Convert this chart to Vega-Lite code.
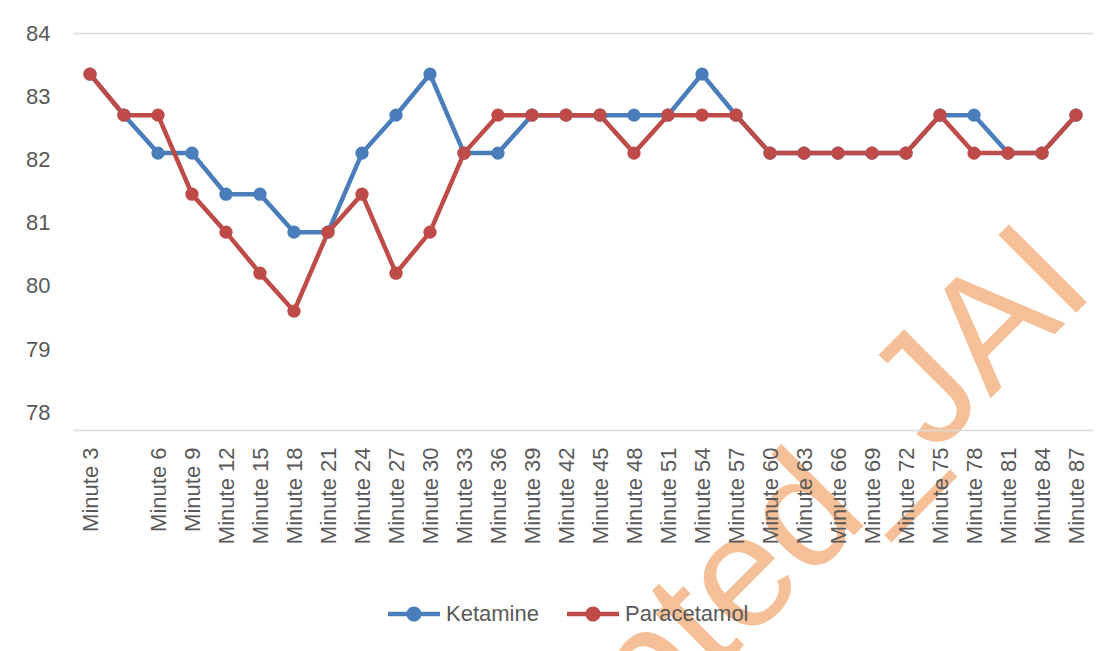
{
  "$schema": "https://vega.github.io/schema/vega-lite/v6.json",
  "width": 1020,
  "height": 397,
  "autosize": "none",
  "padding": {"left": 73, "top": 33, "right": 22, "bottom": 221},
  "background": "white",
  "config": {"view": {"stroke": null}, "font": "Liberation Sans"},
  "datasets": {
    "series": [
      {"idx": 0, "drug": "Ketamine", "value": 83.35},
      {"idx": 1, "drug": "Ketamine", "value": 82.7},
      {"idx": 2, "drug": "Ketamine", "value": 82.1},
      {"idx": 3, "drug": "Ketamine", "value": 82.1},
      {"idx": 4, "drug": "Ketamine", "value": 81.45},
      {"idx": 5, "drug": "Ketamine", "value": 81.45},
      {"idx": 6, "drug": "Ketamine", "value": 80.85},
      {"idx": 7, "drug": "Ketamine", "value": 80.85},
      {"idx": 8, "drug": "Ketamine", "value": 82.1},
      {"idx": 9, "drug": "Ketamine", "value": 82.7},
      {"idx": 10, "drug": "Ketamine", "value": 83.35},
      {"idx": 11, "drug": "Ketamine", "value": 82.1},
      {"idx": 12, "drug": "Ketamine", "value": 82.1},
      {"idx": 13, "drug": "Ketamine", "value": 82.7},
      {"idx": 14, "drug": "Ketamine", "value": 82.7},
      {"idx": 15, "drug": "Ketamine", "value": 82.7},
      {"idx": 16, "drug": "Ketamine", "value": 82.7},
      {"idx": 17, "drug": "Ketamine", "value": 82.7},
      {"idx": 18, "drug": "Ketamine", "value": 83.35},
      {"idx": 19, "drug": "Ketamine", "value": 82.7},
      {"idx": 20, "drug": "Ketamine", "value": 82.1},
      {"idx": 21, "drug": "Ketamine", "value": 82.1},
      {"idx": 22, "drug": "Ketamine", "value": 82.1},
      {"idx": 23, "drug": "Ketamine", "value": 82.1},
      {"idx": 24, "drug": "Ketamine", "value": 82.1},
      {"idx": 25, "drug": "Ketamine", "value": 82.7},
      {"idx": 26, "drug": "Ketamine", "value": 82.7},
      {"idx": 27, "drug": "Ketamine", "value": 82.1},
      {"idx": 28, "drug": "Ketamine", "value": 82.1},
      {"idx": 29, "drug": "Ketamine", "value": 82.7},
      {"idx": 0, "drug": "Paracetamol", "value": 83.35},
      {"idx": 1, "drug": "Paracetamol", "value": 82.7},
      {"idx": 2, "drug": "Paracetamol", "value": 82.7},
      {"idx": 3, "drug": "Paracetamol", "value": 81.45},
      {"idx": 4, "drug": "Paracetamol", "value": 80.85},
      {"idx": 5, "drug": "Paracetamol", "value": 80.2},
      {"idx": 6, "drug": "Paracetamol", "value": 79.6},
      {"idx": 7, "drug": "Paracetamol", "value": 80.85},
      {"idx": 8, "drug": "Paracetamol", "value": 81.45},
      {"idx": 9, "drug": "Paracetamol", "value": 80.2},
      {"idx": 10, "drug": "Paracetamol", "value": 80.85},
      {"idx": 11, "drug": "Paracetamol", "value": 82.1},
      {"idx": 12, "drug": "Paracetamol", "value": 82.7},
      {"idx": 13, "drug": "Paracetamol", "value": 82.7},
      {"idx": 14, "drug": "Paracetamol", "value": 82.7},
      {"idx": 15, "drug": "Paracetamol", "value": 82.7},
      {"idx": 16, "drug": "Paracetamol", "value": 82.1},
      {"idx": 17, "drug": "Paracetamol", "value": 82.7},
      {"idx": 18, "drug": "Paracetamol", "value": 82.7},
      {"idx": 19, "drug": "Paracetamol", "value": 82.7},
      {"idx": 20, "drug": "Paracetamol", "value": 82.1},
      {"idx": 21, "drug": "Paracetamol", "value": 82.1},
      {"idx": 22, "drug": "Paracetamol", "value": 82.1},
      {"idx": 23, "drug": "Paracetamol", "value": 82.1},
      {"idx": 24, "drug": "Paracetamol", "value": 82.1},
      {"idx": 25, "drug": "Paracetamol", "value": 82.7},
      {"idx": 26, "drug": "Paracetamol", "value": 82.1},
      {"idx": 27, "drug": "Paracetamol", "value": 82.1},
      {"idx": 28, "drug": "Paracetamol", "value": 82.1},
      {"idx": 29, "drug": "Paracetamol", "value": 82.7}
    ],
    "mark": [{"idx": 29, "value": 79.57, "text": "Accepted_JAI"}]
  },
  "encoding": {
    "x": {
      "field": "idx",
      "type": "ordinal",
      "scale": {"type": "point", "padding": 0.5},
      "axis": {
        "title": null,
        "labelAngle": -90,
        "labelExpr": "datum.value == 0 ? 'Minute 3' : (datum.value == 1 ? '' : 'Minute ' + (datum.value * 3))",
        "ticks": false,
        "tickSize": 0,
        "domainColor": "#d9d9d9",
        "domainWidth": 1.5,
        "labelPadding": 17,
        "labelFontSize": 22,
        "labelColor": "#595959",
        "labelOverlap": false,
        "labelBound": false,
        "grid": false,
        "zindex": 1
      }
    },
    "y": {
      "field": "value",
      "type": "quantitative",
      "scale": {"domain": [77.72, 84], "nice": false, "zero": false},
      "axis": {
        "title": null,
        "values": [78, 79, 80, 81, 82, 83, 84],
        "domain": false,
        "ticks": false,
        "labelPadding": 23,
        "labelFontSize": 22,
        "labelColor": "#595959",
        "grid": true,
        "gridColor": "#d9d9d9",
        "gridWidth": 1.5,
        "gridOpacity": {"condition": {"test": "datum.value === 84", "value": 1}, "value": 0},
        "zindex": 1
      }
    }
  },
  "layer": [
    {
      "data": {"name": "mark"},
      "mark": {"type": "text", "angle": -45, "align": "right", "baseline": "alphabetic", "fontSize": 160, "dx": 30, "color": "#f5bf97", "font": "Liberation Sans Narrow, Liberation Sans"},
      "encoding": {"text": {"field": "text"}}
    },
    {
      "data": {"name": "series"},
      "mark": {"type": "line", "strokeWidth": 4.5},
      "encoding": {
        "color": {
          "field": "drug",
          "type": "nominal",
          "scale": {"domain": ["Ketamine", "Paracetamol"], "range": ["#4a7ebb", "#be4b48"]},
          "legend": {
            "orient": "none",
            "legendX": 315,
            "legendY": 555,
            "direction": "horizontal",
            "title": null,
            "padding": 0,
            "symbolType": "M-1,-0.087H1V0.087H-1Z M0.29,0A0.29,0.29 0 1,1 -0.29,0A0.29,0.29 0 1,1 0.29,0Z",
            "symbolSize": 2704,
            "symbolStrokeWidth": 0,
            "labelFontSize": 22,
            "labelColor": "#595959",
            "labelOffset": 6,
            "columnPadding": 28,
            "encode": {
              "symbols": {
                "update": {
                  "fill": {"scale": "color", "field": "value"},
                  "stroke": {"value": "transparent"},
                  "strokeWidth": {"value": 0},
                  "opacity": {"value": 1}
                }
              }
            }
          }
        }
      }
    },
    {
      "data": {"name": "series"},
      "mark": {"type": "point", "filled": true, "size": 175, "opacity": 1},
      "encoding": {
        "color": {"field": "drug", "type": "nominal"}
      }
    }
  ]
}
